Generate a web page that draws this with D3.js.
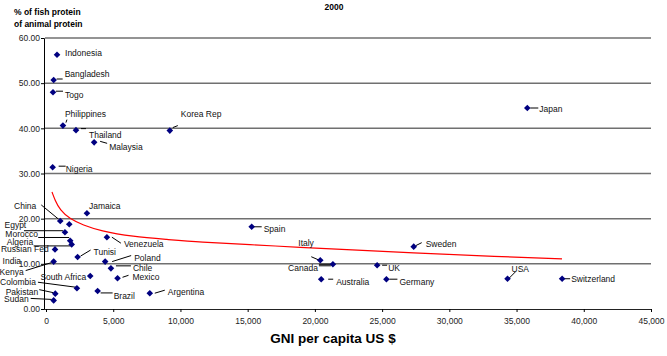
<!DOCTYPE html>
<html>
<head>
<meta charset="utf-8">
<script src="https://cdn.jsdelivr.net/npm/d3@7"></script>
<style>
  html, body { margin: 0; padding: 0; background: #fff; }
  svg { display: block; font-family: Arial, "Liberation Sans", sans-serif; }
</style>
</head>
<body>
<svg id="chart" width="667" height="356"></svg>
<script>
// ---- Data ----
const countries = ["Indonesia","Bangladesh","Togo","Philippines","Thailand","Malaysia","Korea Rep","Japan","Nigeria",
  "Jamaica","China","Egypt","Morocco","Algeria","Russian Fed","India","Kenya","Tunisi","Venezuela","Poland","Chile",
  "Mexico","South Africa","Colombia","Pakistan","Sudan","Brazil","Argentina","Spain","Italy","Canada","UK",
  "Australia","Germany","Sweden","USA","Switzerland"];
const gniPerCapita = [820,570,520,1260,2230,3580,9210,35800,495,
  3045,1060,1730,1410,1800,1910,670,570,2350,4530,4400,4830,
  5320,3290,2300,690,570,3840,7720,15300,20400,21340,24630,
  20470,25320,27350,34330,38390];
const fishShare = [56.3,50.7,48.0,40.6,39.6,36.9,39.5,44.5,31.4,
  21.2,19.5,18.75,17.0,15.1,14.3,13.2,10.5,11.5,15.9,10.5,9.0,
  6.8,7.3,4.6,3.4,1.9,4.0,3.5,18.2,10.8,9.9,9.7,
  6.6,6.6,13.8,6.7,6.7];
// red trend line
const trendGni   = [446,669,1041,1785,2752,4017,6471,9000,11455,15174,18893,22612,27297,32281,38380];
const trendShare = [25.9,24.1,21.9,19.9,18.6,17.3,16.0,15.4,14.8,14.25,13.65,13.1,12.45,11.75,11.1];
const yTicks = [0,10,20,30,40,50,60];
const xTicks = [0,5000,10000,15000,20000,25000,30000,35000,40000,45000];

// ---- Label layout (pixel offsets from the point; text anchor; leader line) ----
const labelLayout = {
  "Indonesia":   {dx:8,  dy:-2,  a:"start"},
  "Bangladesh":  {dx:11, dy:-6,  a:"start", l:[3,-1,9,-1]},
  "Togo":        {dx:12, dy:2.5, a:"start", l:[3,-1,10,-1]},
  "Philippines": {dx:2,  dy:-12, a:"start", l:[3,-3,4,-6]},
  "Thailand":    {dx:13, dy:5,   a:"start", l:[5,-1.5,10,-1.5]},
  "Malaysia":    {dx:15, dy:5,   a:"start", l:[6,-1,13,1]},
  "Korea Rep":   {dx:11, dy:-17, a:"start", l:[3,-3,8,-5]},
  "Japan":       {dx:12, dy:1,   a:"start", l:[3,0,11,0]},
  "Nigeria":     {dx:13, dy:2,   a:"start", l:[6,-1,13,-1]},
  "Jamaica":     {dx:2,  dy:-7.5,a:"start"},
  "China":       {dx:-24,dy:-15, a:"end",   l:[-19,-16,-2,-2]},
  "Egypt":       {dx:-43,dy:1,   a:"end"},
  "Morocco":     {dx:-27,dy:2,   a:"end",   l:[-41,-1.5,-2,-1.5]},
  "Algeria":     {dx:-37,dy:1,   a:"end",   l:[-32,-3.3,-1,-3.3]},
  "Russian Fed": {dx:-23,dy:5,   a:"end",   l:[-38,1.5,-1,1.5]},
  "India":       {dx:-34,dy:12,  a:"end"},
  "Kenya":       {dx:-30,dy:10,  a:"end",   l:[-28,9,-2,1]},
  "Tunisi":      {dx:16, dy:-5,  a:"start", l:[3,-1,13,-7]},
  "Venezuela":   {dx:17, dy:6.5, a:"start", l:[5,0,14,6]},
  "Poland":      {dx:29, dy:-4,  a:"start", l:[7,0,26,-6]},
  "Chile":       {dx:22, dy:0,   a:"start", l:[5,-2.5,20,-2.5]},
  "Mexico":      {dx:15, dy:-1,  a:"start", l:[5,-1,11,-3]},
  "South Africa":{dx:-4, dy:0.5, a:"end"},
  "Colombia":    {dx:-41,dy:-6,  a:"end",   l:[-39,-6,-1,-1]},
  "Pakistan":    {dx:-17,dy:-2,  a:"end",   l:[-16,-4,-2,-1]},
  "Sudan":       {dx:-25,dy:-1,  a:"end",   l:[-23,-2,-2,-1]},
  "Brazil":      {dx:16, dy:5,   a:"start", l:[3,2,15,2]},
  "Argentina":   {dx:18, dy:-1,  a:"start", l:[5,0,15,-3]},
  "Spain":       {dx:12, dy:2,   a:"start", l:[2,0,10,0]},
  "Italy":       {dx:-22,dy:-17, a:"start", l:[-9,-3.5,-1,0]},
  "Canada":      {dx:-15,dy:4,   a:"end",   l:[-14,0,-2,0], l2:[-14,1.5,-2,1.5]},
  "UK":          {dx:11, dy:3,   a:"start", l:[5,0,10,0]},
  "Australia":   {dx:15, dy:3,   a:"start", l:[7,0,12,0]},
  "Germany":     {dx:13, dy:3,   a:"start", l:[3,0,11,0]},
  "Sweden":      {dx:12, dy:-3,  a:"start", l:[2,-1,8,-4]},
  "USA":         {dx:4,  dy:-10, a:"start", l:[1,0,8,-7]},
  "Switzerland": {dx:9,  dy:0,   a:"start", l:[1,0,8,0]}
};

// ---- Chart ----
const svg = d3.select("#chart");
const x = d3.scaleLinear().domain([0, 45000]).range([46, 651]);
const y = d3.scaleLinear().domain([0, 60]).range([309, 38]);

// gridlines
svg.append("g").selectAll("line")
  .data(yTicks.filter(d => d > 0))
  .join("line")
  .attr("x1", x(0) - 1).attr("x2", x(45000))
  .attr("y1", d => y(d)).attr("y2", d => y(d))
  .attr("stroke", "#707070").attr("stroke-width", 1.5);

// y axis
const yAxis = svg.append("g")
  .attr("transform", `translate(${x(0) - 2},0)`)
  .call(d3.axisLeft(y).tickValues(yTicks).tickFormat(d3.format(".2f")).tickSize(3).tickPadding(1));
yAxis.select(".domain").attr("stroke", "#000");
yAxis.selectAll("text").attr("font-size", "8.5px").attr("fill", "#222").attr("font-family", "Arial, 'Liberation Sans', sans-serif");

// x axis
const xAxis = svg.append("g")
  .attr("transform", `translate(0,${y(0)})`)
  .call(d3.axisBottom(x).tickValues(xTicks).tickFormat(d3.format(",")).tickSize(3).tickPadding(6));
xAxis.select(".domain").attr("stroke", "#222").attr("d", `M${x(0) - 2},0.5H${x(45000)}`);
xAxis.selectAll("text").attr("font-size", "8.5px").attr("fill", "#222").attr("font-family", "Arial, 'Liberation Sans', sans-serif");

// trend line
const trend = trendGni.map((g, i) => [g, trendShare[i]]);
svg.append("path")
  .datum(trend)
  .attr("fill", "none")
  .attr("stroke", "#ff0000")
  .attr("stroke-width", 1.2)
  .attr("d", d3.line().x(d => x(d[0])).y(d => y(d[1])).curve(d3.curveBasis));

// points data
const pts = countries.map((c, i) => ({name: c, gni: gniPerCapita[i], share: fishShare[i]}));

// leader lines
const lg = svg.append("g").attr("stroke", "#000").attr("stroke-width", 1);
pts.forEach(p => {
  const L = labelLayout[p.name];
  const px = x(p.gni), py = y(p.share);
  [L.l, L.l2].forEach(l => {
    if (!l) return;
    lg.append("line")
      .attr("x1", px + l[0]).attr("y1", py + l[1])
      .attr("x2", px + l[2]).attr("y2", py + l[3]);
  });
});

// markers
svg.append("g").selectAll("path")
  .data(pts)
  .join("path")
  .attr("transform", d => `translate(${x(d.gni)},${y(d.share)})`)
  .attr("d", "M0,-3.3L3.3,0L0,3.3L-3.3,0Z")
  .attr("fill", "#000080");

// labels
svg.append("g").selectAll("text")
  .data(pts)
  .join("text")
  .attr("x", d => x(d.gni) + labelLayout[d.name].dx)
  .attr("y", d => y(d.share) + labelLayout[d.name].dy)
  .attr("dy", "0.35em")
  .attr("text-anchor", d => labelLayout[d.name].a)
  .attr("font-size", "8.5px")
  .attr("fill", "#111")
  .text(d => d.name);

// titles
svg.append("text").attr("x", 334).attr("y", 10).attr("text-anchor", "middle")
  .attr("font-size", "8.5px").attr("font-weight", "bold").text("2000");
svg.append("text").attr("x", 14).attr("y", 15)
  .attr("font-size", "8.5px").attr("font-weight", "bold").text("% of fish protein");
svg.append("text").attr("x", 14).attr("y", 27)
  .attr("font-size", "8.5px").attr("font-weight", "bold").text("of animal protein");
svg.append("text").attr("x", 333).attr("y", 343).attr("text-anchor", "middle")
  .attr("font-size", "13.5px").attr("font-weight", "bold").text("GNI per capita US $");
</script>
</body>
</html>
